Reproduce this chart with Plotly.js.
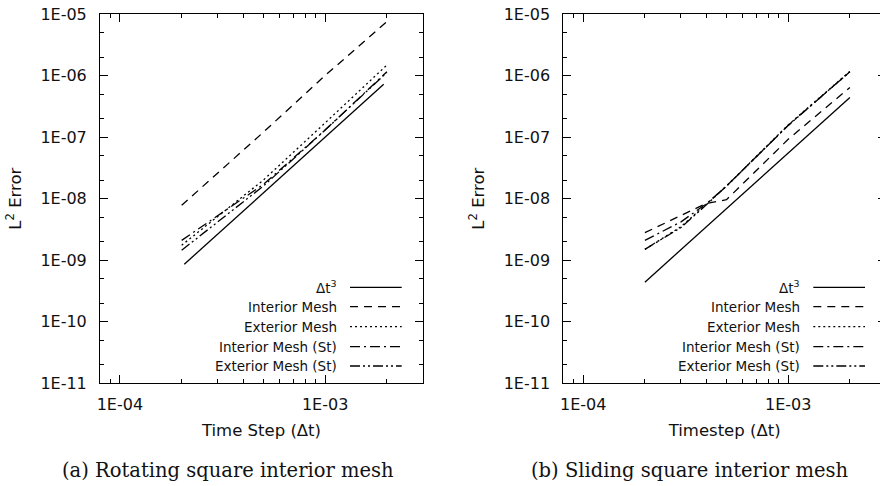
<!DOCTYPE html>
<html>
<head>
<meta charset="utf-8">
<script src="https://cdn.plot.ly/plotly-3.0.1.min.js"></script>
<style>
html,body{margin:0;padding:0;overflow:hidden;background:#fff;}
#chart{width:890px;height:486px;}
</style>
</head>
<body>
<div id="chart"></div>
<script>
// ---------- data ----------
const seriesNames = ['Δt<sup>3</sup>', 'Interior Mesh', 'Exterior Mesh', 'Interior Mesh (St)', 'Exterior Mesh (St)'];
const xTickVals = [1e-4, 1e-3];
const xTickText = ['1E-04', '1E-03'];
const yTickVals = [1e-11, 1e-10, 1e-9, 1e-8, 1e-7, 1e-6, 1e-5];
const yTickText = ['1E-11', '1E-10', '1E-09', '1E-08', '1E-07', '1E-06', '1E-05'];

// (a) Rotating square interior mesh
const refA_dt = [2.06e-4, 1.93e-3];
const refA = [8.6e-10, 7.2e-7];
const dtA = [2e-4, 5e-4, 1e-3, 2e-3];
const intA = [7.8e-9, 1.2e-7, 1.0e-6, 7.5e-6];
const extA = [1.75e-9, 2.0e-8, 1.7e-7, 1.48e-6];
const intStA = [2.1e-9, 1.7e-8, 1.3e-7, 1.15e-6];
const extStA = [1.45e-9, 1.6e-8, 1.3e-7, 1.12e-6];

// (b) Sliding square interior mesh
const refB_dt = [2e-4, 2e-3];
const refB = [4.4e-10, 4.4e-7];
const dtB = [2e-4, 3e-4, 4e-4, 5e-4, 1e-3, 2e-3];
const intB = [2.8e-9, 5.4e-9, 8.4e-9, 9.6e-9, 9.2e-8, 6.4e-7];
const extB = [1.5e-9, 3.5e-9, 8.2e-9, 1.6e-8, 1.58e-7, 1.17e-6];
const intStB = [2.1e-9, 4.2e-9, 8.3e-9, 1.6e-8, 1.55e-7, 1.15e-6];
const extStB = [1.5e-9, 3.4e-9, 8.0e-9, 1.6e-8, 1.55e-7, 1.15e-6];

const captionA = '(a) Rotating square interior mesh';
const captionB = '(b) Sliding square interior mesh';
const xTitleA = 'Time Step (Δt)';
const xTitleB = 'Timestep (Δt)';
const yTitle = 'L<sup>2</sup> Error';

// ---------- styling ----------
const W = 890, H = 486;
const px = p => p / W;
const py = p => 1 - p / H;
const dashes = ['solid', '8px,6px', '2px,3px', '10px,4px,2px,4px', '10px,3px,2px,3px,2px,3px'];
const LW = 1.3;
const sans = 'DejaVu Sans, sans-serif';
const ink = '#111';

function tr(x, y, i, xa, ya) {
  return {x: x, y: y, xaxis: xa, yaxis: ya, type: 'scatter', mode: 'lines',
    name: seriesNames[i], showlegend: false, hoverinfo: 'skip',
    line: {color: 'black', width: LW, dash: dashes[i]}};
}

const data = [
  tr(refA_dt, refA, 0, 'x', 'y'),
  tr(dtA, intA, 1, 'x', 'y'),
  tr(dtA, extA, 2, 'x', 'y'),
  tr(dtA, intStA, 3, 'x', 'y'),
  tr(dtA, extStA, 4, 'x', 'y'),
  tr(refB_dt, refB, 0, 'x2', 'y2'),
  tr(dtB, intB, 1, 'x2', 'y2'),
  tr(dtB, extB, 2, 'x2', 'y2'),
  tr(dtB, intStB, 3, 'x2', 'y2'),
  tr(dtB, extStB, 4, 'x2', 'y2')
];

function xax(dom, title, anchor) {
  return {type: 'log', domain: dom, anchor: anchor,
    range: [Math.log10(8e-5), Math.log10(3e-3)],
    tickmode: 'array', tickvals: xTickVals, ticktext: xTickText,
    ticks: 'inside', ticklen: 8, tickwidth: 1, tickcolor: 'black',
    showline: true, linecolor: 'black', linewidth: 1, mirror: 'ticks',
    showgrid: false, zeroline: false,
    minor: {dtick: 'D1', ticks: 'inside', ticklen: 4, tickwidth: 1, tickcolor: 'black', showgrid: false},
    tickfont: {family: sans, size: 16, color: ink}, ticklabelstandoff: 6,
    title: {text: title, font: {family: sans, size: 16.5, color: ink}, standoff: 11}};
}
function yax(dom, anchor) {
  return {type: 'log', domain: dom, anchor: anchor,
    range: [-11, -5],
    tickmode: 'array', tickvals: yTickVals, ticktext: yTickText,
    ticks: 'inside', ticklen: 8, tickwidth: 1, tickcolor: 'black',
    showline: true, linecolor: 'black', linewidth: 1, mirror: 'ticks',
    showgrid: false, zeroline: false,
    minor: {dtick: 'D2', ticks: 'inside', ticklen: 4, tickwidth: 1, tickcolor: 'black', showgrid: false},
    tickfont: {family: sans, size: 16, color: ink}, ticklabelstandoff: 9,
    title: {text: yTitle, font: {family: sans, size: 16.5, color: ink}, standoff: 14}};
}

const yDom = [py(383.3), py(14)];
const layout = {
  width: W, height: H,
  margin: {l: 0, r: 0, t: 0, b: 0, autoexpand: false},
  paper_bgcolor: 'white', plot_bgcolor: 'white',
  showlegend: false,
  xaxis: xax([px(100), px(423)], xTitleA, 'y'),
  yaxis: yax(yDom, 'x'),
  xaxis2: xax([px(563.3), px(886)], xTitleB, 'y2'),
  yaxis2: yax(yDom, 'x2'),
  shapes: [],
  annotations: []
};

// manual legends (text left of sample line, right-aligned)
const rowsY = [287.3, 306.7, 326.7, 346.7, 366];
const legends = [{textR: 339.3, l0: 350, l1: 401.7}, {textR: 801.7, l0: 813.3, l1: 865}];
legends.forEach(lg => {
  seriesNames.forEach((nm, i) => {
    layout.annotations.push({xref: 'paper', yref: 'paper', x: px(lg.textR), y: py(rowsY[i]),
      xanchor: 'right', yanchor: 'middle', showarrow: false, text: nm,
      font: {family: sans, size: 13.5, color: ink}});
    layout.shapes.push({type: 'line', xref: 'paper', yref: 'paper',
      x0: px(lg.l0), x1: px(lg.l1), y0: py(rowsY[i]), y1: py(rowsY[i]),
      line: {color: 'black', width: LW, dash: dashes[i]}});
  });
});

// captions
[[captionA, 227.5], [captionB, 689.7]].forEach(c => {
  layout.annotations.push({xref: 'paper', yref: 'paper', x: px(c[1]), y: py(470),
    xanchor: 'center', yanchor: 'middle', showarrow: false, text: c[0],
    font: {family: 'DejaVu Serif, serif', size: 19.5, color: ink}});
});

Plotly.newPlot('chart', data, layout, {staticPlot: true, displayModeBar: false});
</script>
</body>
</html>
